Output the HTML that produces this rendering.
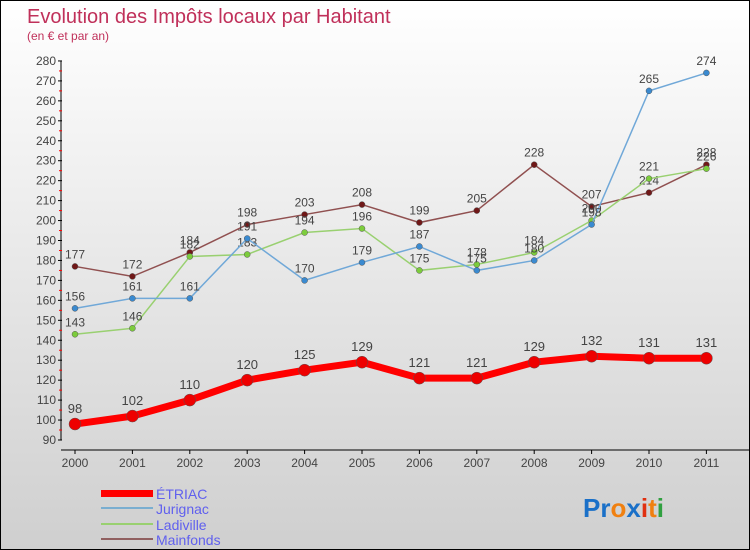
<!DOCTYPE html>
<html><head><meta charset="utf-8"><style>
body{margin:0}
#c{width:748px;height:548px;border:1px solid #000;background:linear-gradient(#fff,#cfcfcf);position:relative;font-family:"Liberation Sans",sans-serif;overflow:hidden}
</style></head><body>
<div id="c">
<svg id="s" width="748" height="548" xmlns="http://www.w3.org/2000/svg">
<text x="26" y="22" font-size="20" fill="#c0305a">Evolution des Impôts locaux par Habitant</text>
<text x="26" y="39" font-size="12" fill="#c0305a">(en € et par an)</text>
<g id="g"></g>
<g>
<rect x="100" y="489" width="52" height="7" fill="#f00"/>
<text x="155" y="498" font-size="14" fill="#6060ee">ÉTRIAC</text>
<line x1="100" y1="507" x2="152" y2="507" stroke="#7aaed0" stroke-width="2"/>
<text x="155" y="513" font-size="14" fill="#6060ee">Jurignac</text>
<line x1="100" y1="523" x2="152" y2="523" stroke="#99d070" stroke-width="2"/>
<text x="155" y="529" font-size="14" fill="#6060ee">Ladiville</text>
<line x1="100" y1="538" x2="152" y2="538" stroke="#906060" stroke-width="2"/>
<text x="155" y="544" font-size="14" fill="#6060ee">Mainfonds</text>
</g>
<text x="582" y="516" font-size="26" font-weight="bold"><tspan fill="#1a70c8">Pr</tspan><tspan fill="#f08010">o</tspan><tspan fill="#1a70c8">x</tspan><tspan fill="#e03010">i</tspan><tspan fill="#f08010">t</tspan><tspan fill="#30a040">i</tspan></text>
</svg></div>
<script>
const years=["2000","2001","2002","2003","2004","2005","2006","2007","2008","2009","2010","2011"];
const etriac=[98,102,110,120,125,129,121,121,129,132,131,131];
const jurignac=[156,161,161,191,170,179,187,175,180,198,265,274];
const ladiville=[143,146,182,183,194,196,175,178,184,200,221,226];
const mainfonds=[177,172,184,198,203,208,199,205,228,207,214,228];
const yTicks=[90,100,110,120,130,140,150,160,170,180,190,200,210,220,230,240,250,260,270,280];
const NS="http://www.w3.org/2000/svg",g=document.getElementById('g');
const X=i=>74+i*57.4, Y=v=>439-(v-90)*1.995;
function el(t,a,name){const e=document.createElementNS(NS,t);for(const k in a)e.setAttribute(k,a[k]);


g.appendChild(e);return e;}
el('line',{x1:60,y1:Y(280),x2:60,y2:Y(90),stroke:'#000'},'y-axis');
el('line',{x1:60,y1:449,x2:748,y2:449,stroke:'#000'},'x-axis');
yTicks.forEach(v=>{el('line',{x1:57,x2:61,y1:Y(v),y2:Y(v),stroke:'#000'},'y-tick');
if(v<280)el('line',{x1:58,x2:61,y1:Y(v+5),y2:Y(v+5),stroke:'#f00'},'y-minor-tick');
const t=el('text',{x:55,y:Y(v)+4,'font-size':12,fill:'#444','text-anchor':'end'},'y-tick-label');t.textContent=v;});
years.forEach((y,i)=>{el('line',{x1:X(i),x2:X(i),y1:449,y2:453,stroke:'#000'},'x-tick');
const t=el('text',{x:X(i),y:466,'font-size':12,fill:'#444','text-anchor':'middle'},'x-tick-label');t.textContent=y;});
function series(d,col,dot,w,r,name,fs){
el('polyline',{points:d.map((v,i)=>X(i)+','+Y(v)).join(' '),fill:'none',stroke:col,'stroke-width':w},name+'-line');
d.forEach((v,i)=>{el('circle',{cx:X(i),cy:Y(v),r:r,fill:dot,stroke:'#555','stroke-width':0.5},name+'-point');
const t=el('text',{x:X(i),y:Y(v)-r-5,'font-size':fs,fill:'#444','text-anchor':'middle'},name+'-value');t.textContent=v;});}
series(mainfonds,'#905050','#701818',1.5,3,'mainfonds',12);
series(ladiville,'#99d070','#7ccc3c',1.5,3,'ladiville',12);
series(jurignac,'#70a8d8','#3a8ad0',1.5,3,'jurignac',12);
series(etriac,'#f00','#e00',7,6,'etriac',13);
</script>
</body></html>
